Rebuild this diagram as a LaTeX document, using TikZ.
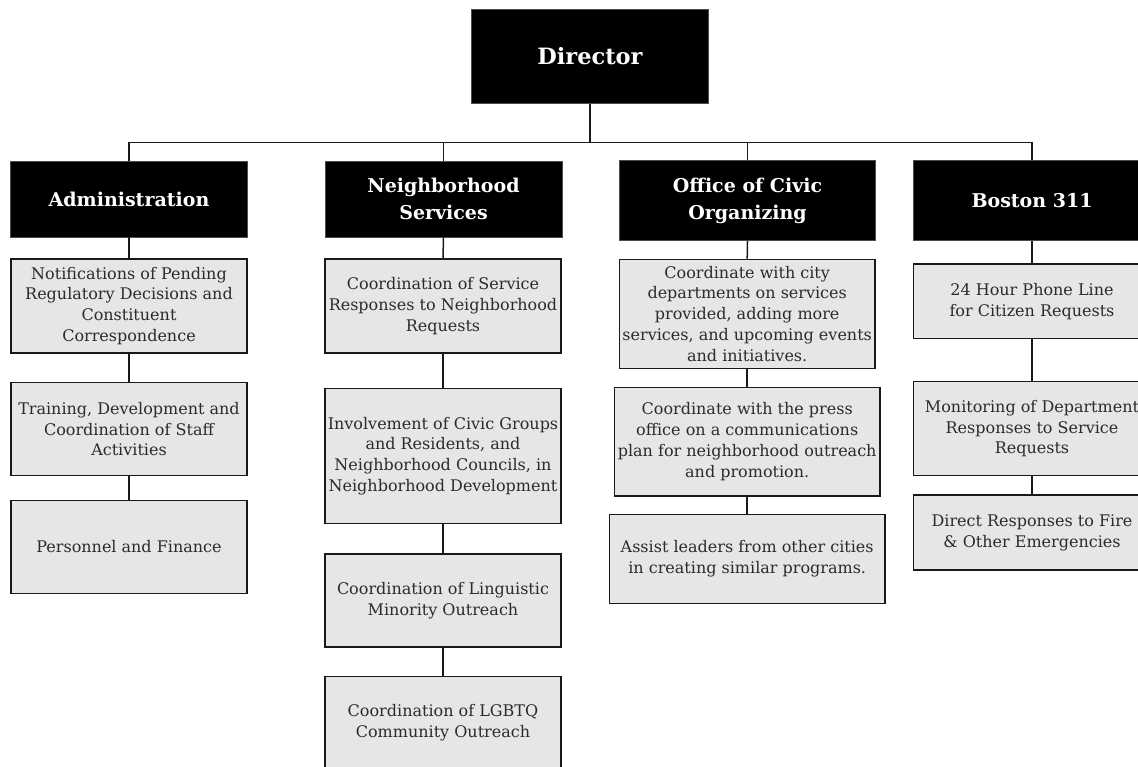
\documentclass[tikz,border=0pt]{standalone}
\usepackage{fontspec}
\setmainfont{DejaVu Serif}
\usepackage{tikz}
\usetikzlibrary{calc}
\usepackage{xcolor}
\definecolor{boxgray}{HTML}{E6E6E6}
\definecolor{textgray}{HTML}{2B2B2B}

\tikzset{
  headbox/.style={draw=black!70, line width=0.8pt, fill=black, text=white, align=center, inner sep=0pt,
    minimum width=237pt, minimum height=80pt, font=\fontsize{19}{26.7}\selectfont\bfseries},
  subbox/.style={draw=black!90, line width=1.5pt, fill=boxgray, text=textgray, align=center, inner sep=0pt,
    minimum width=236pt, font=\fontsize{16}{20.8}\selectfont},
  link/.style={draw=black!90, line width=1.5pt}
}

\begin{document}
\begin{tikzpicture}[x=1pt,y=-1pt]
\useasboundingbox (0,0) rectangle (1138,767);
\clip (0,0) rectangle (1138,767);
\node [headbox, minimum height=94pt, font=\fontsize{22.5}{26}\selectfont\bfseries] (dir) at (590,56.3) {Director};
\node [headbox, minimum height=76pt] (adm) at (129,199) {Administration};
\node [headbox, minimum height=76pt] (nbs) at (443.5,199) {Neighborhood\\Services};
\node [headbox, minimum width=256pt] (oco) at (747.5,200.8) {Office of Civic\\Organizing};
\node [headbox] (bos) at (1032,200.7) {Boston 311};

\node [subbox, minimum height=93.7pt] (adm1) at (129,305.9) {Notifications of Pending\\Regulatory Decisions and\\Constituent\\Correspondence};
\node [subbox, minimum height=93pt] (adm2) at (129,429.2) {Training, Development and\\Coordination of Staff\\Activities};
\node [subbox, minimum height=92.6pt] (adm3) at (129,547) {Personnel and Finance};

\node [subbox, minimum height=93.7pt] (nbs1) at (443,305.9) {Coordination of Service\\Responses to Neighborhood\\Requests};
\node [subbox, minimum height=134.6pt] (nbs2) at (443,456) {Involvement of Civic Groups\\and Residents, and\\Neighborhood Councils, in\\Neighborhood Development};
\node [subbox, minimum height=92.7pt] (nbs3) at (443,600.4) {Coordination of Linguistic\\Minority Outreach};
\node [subbox, minimum height=93pt] (nbs4) at (443,723) {Coordination of LGBTQ\\Community Outreach};

\node [subbox, minimum width=255.7pt, minimum height=109pt] (oco1) at (747.2,313.8) {Coordinate with city\\departments on services\\provided, adding more\\services, and upcoming events\\and initiatives.};
\node [subbox, minimum width=265.7pt, minimum height=108.5pt] (oco2) at (747.2,441.75) {Coordinate with the press\\office on a communications\\plan for neighborhood outreach\\and promotion.};
\node [subbox, minimum width=275.5pt, minimum height=89pt] (oco3) at (747.2,558.8) {Assist leaders from other cities\\in creating similar programs.};

\node [subbox, minimum width=237.5pt, minimum height=74.7pt] (bos1) at (1032,301.4) {24 Hour Phone Line\\for Citizen Requests};
\node [subbox, minimum width=237.5pt, minimum height=94pt] (bos2) at (1032,428.7) {Monitoring of Department\\Responses to Service\\Requests};
\node [subbox, minimum width=237.5pt, minimum height=75pt] (bos3) at (1032,532.5) {Direct Responses to Fire\\\& Other Emergencies};

\coordinate (bus) at (590,142.7);
\draw [link] (dir.south) -- (bus);
\draw [link] (adm.north) -- (adm.north |- bus) -- (bos.north |- bus) -- (bos.north);
\draw [link] (nbs.north) -- (nbs.north |- bus);
\draw [link] (oco.north) -- (oco.north |- bus);

\draw [link] (adm.south) -- (adm1.north);
\draw [link] (adm1.south) -- (adm2.north);
\draw [link] (adm2.south) -- (adm3.north);
\draw [link] (nbs.south) -- (nbs1.north);
\draw [link] (nbs1.south) -- (nbs2.north);
\draw [link] (nbs2.south) -- (nbs3.north);
\draw [link] (nbs3.south) -- (nbs4.north);
\draw [link] (oco.south) -- (oco1.north);
\draw [link] (oco1.south) -- (oco2.north);
\draw [link] (oco2.south) -- (oco3.north);
\draw [link] (bos.south) -- (bos1.north);
\draw [link] (bos1.south) -- (bos2.north);
\draw [link] (bos2.south) -- (bos3.north);
\end{tikzpicture}
\end{document}
